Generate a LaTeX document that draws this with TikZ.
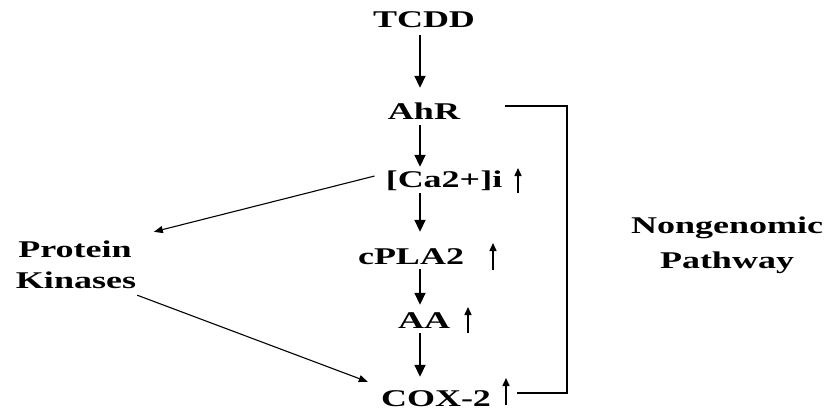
\documentclass[tikz,border=0pt]{standalone}
\usepackage{fontspec}
\setmainfont{Liberation Serif}[FakeStretch=1.5]
\usetikzlibrary{arrows.meta}
\begin{document}
\begin{tikzpicture}[x=1pt,y=-1pt,
  lbl/.style={font=\fontsize{24}{27}\selectfont\bfseries, inner sep=0pt, text height=16pt, text depth=0pt, anchor=base},
  varr/.style={line width=1.8pt, -{Triangle[length=12pt,width=11pt]}},
  darr/.style={line width=1.1pt, -{Triangle[length=9pt,width=7pt]}},
  uparr/.style={line width=1.5pt, -{Triangle[length=8pt,width=7pt]}},
  bracket/.style={line width=1.4pt}]
\useasboundingbox (0,0) rectangle (834,417);
% main chain
\node[lbl] (tcdd) at (424,28) {TCDD};
\node[lbl] (ahr)  at (424,119) {AhR};
\node[lbl] (ca)   at (444,187) {[Ca2+]i};
\node[lbl] (cpla) at (411,264) {cPLA2};
\node[lbl] (aa)   at (424,328) {AA};
\node[lbl] (cox)  at (436,406) {COX-2};
% side labels
\node[lbl] (pk1) at (75,257) {Protein};
\node[lbl] (pk2) at (76,288) {Kinases};
\node[lbl] (ng1) at (727,233) {Nongenomic};
\node[lbl] (ng2) at (727,268) {Pathway};
% vertical axis of the chain
\coordinate (ax) at (420,0);
\draw[varr, shorten <=7pt, shorten >=15pt] (tcdd.south -| ax) -- (ahr.north -| ax);
\draw[varr, shorten <=6pt, shorten >=4pt]  (ahr.south -| ax) -- (ca.north -| ax);
\draw[varr, shorten <=6pt, shorten >=16pt] (ca.south -| ax) -- (cpla.north -| ax);
\draw[varr, shorten <=5pt, shorten >=7pt]  (cpla.south -| ax) -- (aa.north -| ax);
\draw[varr, shorten <=5pt, shorten >=13pt] (aa.south -| ax) -- (cox.north -| ax);
% up arrows (increase marks)
\draw[uparr] (518,193) -- (518,168);
\draw[uparr] (493,270) -- (493,243);
\draw[uparr] (468,333) -- (468,307);
\draw[uparr] (506,405) -- (506,378);
% diagonal arrows
\draw[darr] ([shift={(-11,-3)}]ca.west) -- ([shift={(22,-9)}]pk1.north east);
\draw[darr] ([shift={(1,7)}]pk2.south east) -- ([shift={(-13,-8)}]cox.north west);
% nongenomic bracket
\coordinate (b1) at (505,106);
\coordinate (b2) at (517,393);
\coordinate (bx) at (567,0);
\draw[bracket] (b1) -- (b1 -| bx) -- (b2 -| bx) -- (b2);
\end{tikzpicture}
\end{document}
